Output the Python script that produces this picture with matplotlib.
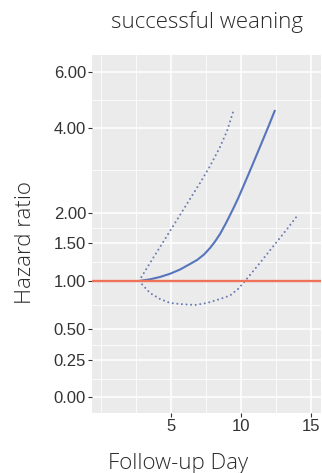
import matplotlib
matplotlib.use("Agg")
import matplotlib.pyplot as plt
import numpy as np

plt.rcParams["font.family"] = ["Liberation Sans", "DejaVu Sans"]

# values
hr_breaks = [0.0, 0.25, 0.5, 1.0, 1.5, 2.0, 4.0, 6.0]
hr_labels = ["0.00", "0.25", "0.50", "1.00", "1.50", "2.00", "4.00", "6.00"]
day_breaks = [5, 10, 15]

fit_day = [2.714, 3.5, 4.214, 4.929, 5.643, 6.357, 6.857, 7.357, 7.786, 8.143,
           8.5, 8.929, 9.429, 9.786, 10.143, 10.5, 10.857, 11.214, 11.571,
           12.0, 12.429]
fit_hr = [1.0, 1.022, 1.053, 1.095, 1.151, 1.224, 1.276, 1.349, 1.434, 1.525,
          1.65, 1.833, 2.094, 2.341, 2.612, 2.887, 3.165, 3.447, 3.729,
          4.107, 4.643]

upper_day = [2.714, 3.5, 4.214, 4.929, 5.643, 6.357, 7.071, 7.786, 8.5, 9.0,
             9.429]
upper_hr = [1.0, 1.237, 1.447, 1.70, 1.967, 2.33, 2.706, 3.106, 3.553, 3.93,
            4.57]

lower_day = [2.714, 3.5, 4.214, 4.929, 5.643, 6.714, 7.571, 8.5, 9.214, 9.786,
             10.286, 10.786, 11.286, 11.857, 12.571, 13.286, 14.0]
lower_hr = [1.0, 0.875, 0.8125, 0.771, 0.76, 0.75, 0.771, 0.8125, 0.849, 0.917,
            1.0, 1.112, 1.224, 1.355, 1.525, 1.733, 1.95]

# the y axis of the original is not linear: each break has its own spacing
break_pos = np.array([-397, -360, -329, -281, -243, -213, -128, -72], float)
hr_b = np.array(hr_breaks)


def fwd(v):
    v = np.asarray(v, float)
    out = np.interp(v, hr_b, break_pos)
    lo = (break_pos[1] - break_pos[0]) / (hr_b[1] - hr_b[0])
    hi = (break_pos[-1] - break_pos[-2]) / (hr_b[-1] - hr_b[-2])
    out = np.where(v < hr_b[0], break_pos[0] + (v - hr_b[0]) * lo, out)
    out = np.where(v > hr_b[-1], break_pos[-1] + (v - hr_b[-1]) * hi, out)
    return out


def inv(p):
    p = np.asarray(p, float)
    out = np.interp(p, break_pos, hr_b)
    lo = (hr_b[1] - hr_b[0]) / (break_pos[1] - break_pos[0])
    hi = (hr_b[-1] - hr_b[-2]) / (break_pos[-1] - break_pos[-2])
    out = np.where(p < break_pos[0], hr_b[0] + (p - break_pos[0]) * lo, out)
    out = np.where(p > break_pos[-1], hr_b[-1] + (p - break_pos[-1]) * hi, out)
    return out


W, H = 322, 473
fig = plt.figure(figsize=(W / 100, H / 100), dpi=100)
ax = fig.add_axes([92 / W, 1 - 413 / H, (321 - 92) / W, (413 - 55) / H])
ax.set_facecolor("#ebebeb")

ax.set_yscale("function", functions=(fwd, inv))
ax.set_ylim(float(inv(-413)), float(inv(-55)))
ax.set_xlim(-0.643, 15.71)

ax.set_yticks(hr_breaks)
ax.set_yticklabels(hr_labels)
mid = (break_pos[:-1] + break_pos[1:]) / 2
ax.set_yticks(inv(mid), minor=True)
ax.set_xticks(day_breaks)
ax.set_xticks([0, 2.5, 7.5, 12.5], minor=True)

ax.grid(which="major", color="white", lw=1.1)
ax.grid(which="minor", color="white", lw=0.55)
ax.set_axisbelow(True)
for s in ax.spines.values():
    s.set_visible(False)

ax.tick_params(which="major", length=2.8, width=0.8, color="#333333",
               labelsize=12, labelcolor="#333333", pad=1.5)
ax.tick_params(which="minor", length=0)

dot = (0, (0.01, 2.2))
ax.plot(upper_day, upper_hr, color="#6c7cb4", lw=1.5, ls=dot,
        dash_capstyle="round", zorder=3)
ax.plot(lower_day, lower_hr, color="#6c7cb4", lw=1.5, ls=dot,
        dash_capstyle="round", zorder=3)
ax.plot(fit_day, fit_hr, color="#5675bd", lw=1.5, zorder=4,
        solid_capstyle="butt")
ax.axhline(1.0, color="#ee7358", lw=1.7, zorder=5)

title_font = dict(fontsize=16, family="Open Sans", fontweight="light",
                  color="#2a2a2a")
fig.text(207 / W, 1 - 22 / H, "successful weaning", ha="center", va="center",
         **title_font)
fig.text(178 / W, 1 - 463 / H, "Follow-up Day", ha="center", va="center",
         **title_font)
fig.text(26 / W, 1 - 243 / H, "Hazard ratio", ha="center", va="center",
         rotation=90, **title_font)

fig.savefig("out.png", dpi=100)
